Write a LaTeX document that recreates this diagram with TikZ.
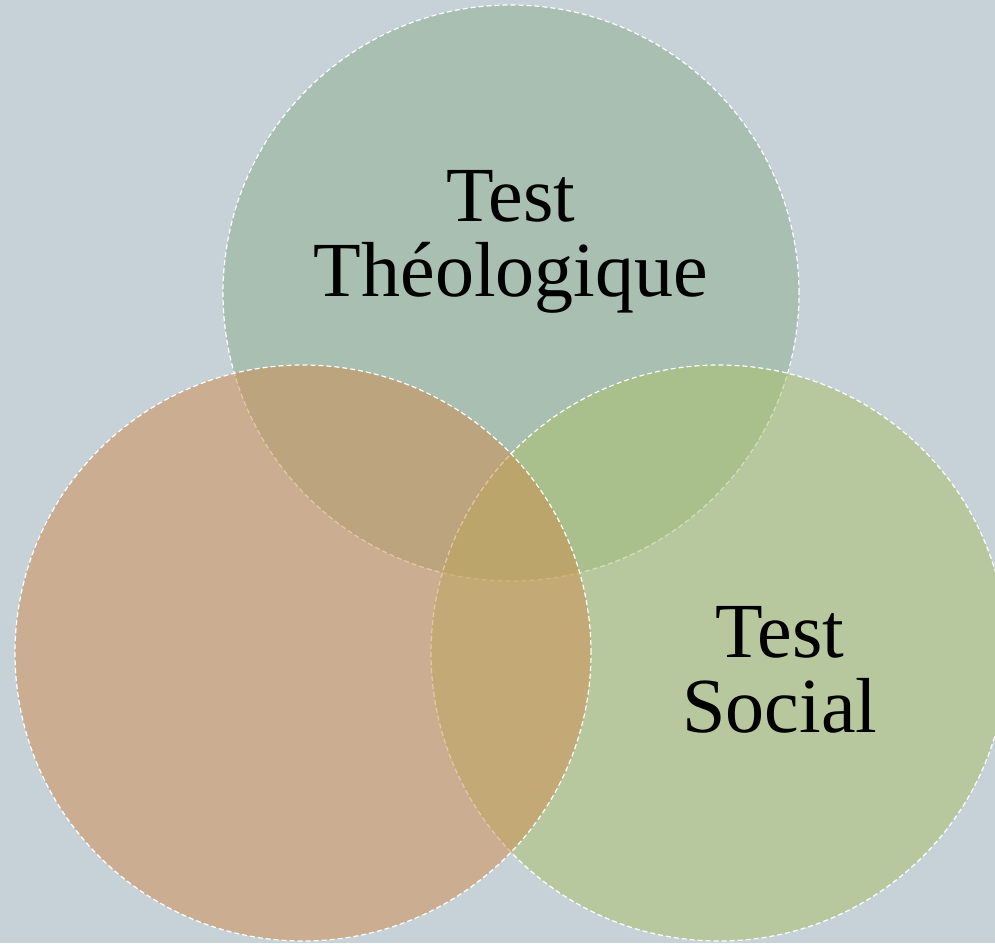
\documentclass[tikz,border=0pt]{standalone}
\usepackage{fontspec}
\setmainfont{Liberation Serif}
\definecolor{bgc}{RGB}{198,210,216}
\definecolor{topc}{RGB}{140,174,140}
\definecolor{leftc}{RGB}{208,140,76}
\definecolor{rightc}{RGB}{170,192,104}
\tikzset{
  venn/.style={circle, minimum size=576pt, inner sep=0pt, fill opacity=0.5,
    draw=white, draw opacity=1, line width=1.2pt, dash pattern=on 5pt off 3pt},
  label/.style={align=center, text=black, font=\fontsize{78}{75}\selectfont}
}
\begin{document}
\begin{tikzpicture}[x=1pt,y=-1pt]
\useasboundingbox (0,0) rectangle (995,943);
\fill[bgc] (0,0) rectangle (995,943);
\clip (0,0) rectangle (995,943);
\node[venn, fill=topc] (top) at (511,293) {};
\node[venn, fill=rightc] (right) at (719,653) {};
\node[venn, fill=leftc] (left) at (303,653) {};
\node[label] (theo) at (511,242) {Test\\Théologique};
\node[label] (soc) at (780,670) {Test\\Social};
\end{tikzpicture}
\end{document}
